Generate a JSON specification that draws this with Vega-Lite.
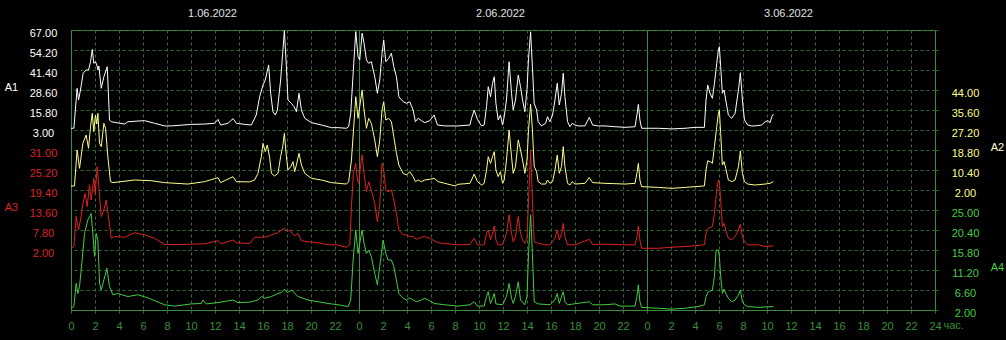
{
"$schema": "https://vega.github.io/schema/vega-lite/v6.json",
"background": "#000000",
"autosize": {"type": "none"},
"padding": {"left": 71, "right": 71, "top": 30, "bottom": 30},
"width": 864,
"height": 280,
"config": {"view": {"stroke": "#3c8c3c", "strokeWidth": 1}, "axis": {"labelFont": "Liberation Sans", "labelFontSize": 11, "titleFont": "Liberation Sans", "titleFontSize": 11, "titleFontWeight": "normal"}},
"datasets": {
"a1": [{"t":0,"v":4.1},{"t":0.24,"v":4.1},{"t":0.51,"v":29.7},{"t":0.63,"v":22.2},{"t":0.79,"v":28.6},{"t":1.01,"v":39.3},{"t":1.26,"v":41.4},{"t":1.46,"v":41.4},{"t":1.63,"v":46.7},{"t":1.77,"v":54.6},{"t":1.9,"v":45.7},{"t":2.04,"v":46.7},{"t":2.15,"v":44.6},{"t":2.24,"v":41.4},{"t":2.32,"v":44},{"t":2.52,"v":29.7},{"t":2.74,"v":37.1},{"t":3.02,"v":43.5},{"t":3.21,"v":9.4},{"t":3.35,"v":8.3},{"t":4.46,"v":6.8},{"t":4.74,"v":8.3},{"t":6.13,"v":9.0},{"t":6.96,"v":7.3},{"t":7.8,"v":5.6},{"t":8.35,"v":5.6},{"t":10.02,"v":6.6},{"t":11.13,"v":6.8},{"t":11.97,"v":7.3},{"t":12.25,"v":9.8},{"t":12.47,"v":6.2},{"t":13.08,"v":7.3},{"t":13.5,"v":10.3},{"t":13.78,"v":7.3},{"t":14.47,"v":6.6},{"t":15.03,"v":6.2},{"t":15.44,"v":12.6},{"t":15.72,"v":24.3},{"t":16.0,"v":31.8},{"t":16.19,"v":35.0},{"t":16.47,"v":44.6},{"t":16.64,"v":26.5},{"t":16.83,"v":14.7},{"t":17.03,"v":12.6},{"t":17.2,"v":15.8},{"t":17.47,"v":35.0},{"t":17.64,"v":52.1},{"t":17.78,"v":66.6},{"t":17.95,"v":43.5},{"t":18.08,"v":22.2},{"t":18.36,"v":20.1},{"t":18.59,"v":17.9},{"t":18.78,"v":14.7},{"t":19.0,"v":26.5},{"t":19.2,"v":15.8},{"t":19.48,"v":10.5},{"t":20.03,"v":7.7},{"t":20.87,"v":6.2},{"t":21.7,"v":4.5},{"t":22.26,"v":4.5},{"t":22.95,"v":4.1},{"t":23.14,"v":5.1},{"t":23.31,"v":13.7},{"t":23.53,"v":41.4},{"t":23.73,"v":66.0},{"t":23.92,"v":49.9},{"t":24.06,"v":47.8},{"t":24.26,"v":64.9},{"t":24.42,"v":58.5},{"t":24.62,"v":47.8},{"t":24.81,"v":45.7},{"t":25.03,"v":46.7},{"t":25.31,"v":37.1},{"t":25.53,"v":26.5},{"t":25.73,"v":35.0},{"t":25.92,"v":52.1},{"t":26.06,"v":60.6},{"t":26.23,"v":46.7},{"t":26.48,"v":48.9},{"t":26.7,"v":52.1},{"t":26.9,"v":43.5},{"t":27.12,"v":37.1},{"t":27.32,"v":24.3},{"t":27.68,"v":21.1},{"t":27.96,"v":20.1},{"t":28.23,"v":21.1},{"t":28.51,"v":15.8},{"t":28.7,"v":8.3},{"t":28.93,"v":10.5},{"t":29.2,"v":9.0},{"t":29.48,"v":7.7},{"t":29.9,"v":9.0},{"t":30.26,"v":12.6},{"t":30.54,"v":6.2},{"t":31.15,"v":5.6},{"t":32.26,"v":5.6},{"t":33.24,"v":6.2},{"t":33.38,"v":10.5},{"t":33.6,"v":15.8},{"t":33.87,"v":9.8},{"t":34.21,"v":5.6},{"t":34.43,"v":6.2},{"t":34.63,"v":17.9},{"t":34.77,"v":30.7},{"t":34.96,"v":24.3},{"t":35.13,"v":32.9},{"t":35.27,"v":37.1},{"t":35.41,"v":20.1},{"t":35.6,"v":9.4},{"t":35.79,"v":12.6},{"t":35.96,"v":6.2},{"t":36.1,"v":11.5},{"t":36.29,"v":22.2},{"t":36.51,"v":46.7},{"t":36.71,"v":26.5},{"t":36.85,"v":15.8},{"t":37.04,"v":22.2},{"t":37.27,"v":38.2},{"t":37.46,"v":30.7},{"t":37.63,"v":22.2},{"t":37.82,"v":14.7},{"t":38.0,"v":29.0},{"t":38.13,"v":48.9},{"t":38.3,"v":65.9},{"t":38.45,"v":43.5},{"t":38.6,"v":20.1},{"t":38.8,"v":15.8},{"t":38.93,"v":8.3},{"t":39.21,"v":5.6},{"t":39.55,"v":7.3},{"t":39.71,"v":11.5},{"t":39.91,"v":8.3},{"t":40.13,"v":12.6},{"t":40.33,"v":22.2},{"t":40.52,"v":32.9},{"t":40.69,"v":19.0},{"t":40.88,"v":26.5},{"t":41.02,"v":39.3},{"t":41.16,"v":24.3},{"t":41.38,"v":8.3},{"t":41.58,"v":5.1},{"t":41.77,"v":7.3},{"t":42.0,"v":6.2},{"t":42.27,"v":5.6},{"t":42.83,"v":5.6},{"t":43.19,"v":11.1},{"t":43.47,"v":6.2},{"t":43.94,"v":5.6},{"t":44.5,"v":5.6},{"t":45.33,"v":5.1},{"t":46.17,"v":4.7},{"t":47.0,"v":5.1},{"t":47.16,"v":12.6},{"t":47.28,"v":19.4},{"t":47.41,"v":9.4},{"t":47.55,"v":4.1},{"t":48.1,"v":4.1},{"t":48.94,"v":4.1},{"t":50.06,"v":3.7},{"t":51.17,"v":4.1},{"t":52.0,"v":4.7},{"t":52.78,"v":4.7},{"t":52.92,"v":22.2},{"t":53.06,"v":31.8},{"t":53.25,"v":26.5},{"t":53.45,"v":23.3},{"t":53.62,"v":32.9},{"t":53.81,"v":45.7},{"t":53.95,"v":54.2},{"t":54.03,"v":56.3},{"t":54.14,"v":43.5},{"t":54.28,"v":26.5},{"t":54.42,"v":28.6},{"t":54.56,"v":22.2},{"t":54.78,"v":12.6},{"t":55.06,"v":10.5},{"t":55.34,"v":13.7},{"t":55.62,"v":28.6},{"t":55.78,"v":39.7},{"t":55.95,"v":22.2},{"t":56.12,"v":9.4},{"t":56.39,"v":6.2},{"t":56.73,"v":5.6},{"t":57.01,"v":5.6},{"t":57.56,"v":6.2},{"t":57.84,"v":8.3},{"t":58.06,"v":9.0},{"t":58.26,"v":7.7},{"t":58.4,"v":11.5},{"t":58.53,"v":13.2}],
"a2": [{"t":0,"v":3.7},{"t":0.29,"v":3.7},{"t":0.51,"v":18.8},{"t":0.71,"v":11.1},{"t":0.99,"v":21.6},{"t":1.26,"v":25.1},{"t":1.46,"v":19.5},{"t":1.63,"v":28.6},{"t":1.77,"v":34.2},{"t":1.9,"v":26.5},{"t":2.04,"v":33.5},{"t":2.15,"v":29.7},{"t":2.24,"v":34.2},{"t":2.38,"v":21.6},{"t":2.52,"v":20.2},{"t":2.74,"v":30.0},{"t":2.88,"v":27.9},{"t":3.07,"v":16.0},{"t":3.29,"v":5.5},{"t":3.49,"v":5.1},{"t":5.3,"v":6.2},{"t":6.69,"v":5.9},{"t":7.8,"v":5.1},{"t":9.74,"v":4.5},{"t":11.13,"v":5.5},{"t":12.25,"v":7.2},{"t":12.47,"v":5.1},{"t":13.5,"v":7.6},{"t":13.78,"v":5.5},{"t":14.89,"v":5.4},{"t":15.3,"v":6.2},{"t":15.58,"v":9.0},{"t":15.86,"v":16.0},{"t":16.0,"v":21.6},{"t":16.19,"v":18.1},{"t":16.36,"v":20.9},{"t":16.56,"v":15.3},{"t":16.7,"v":9.0},{"t":16.97,"v":7.9},{"t":17.25,"v":9.0},{"t":17.47,"v":16.0},{"t":17.64,"v":20.2},{"t":17.78,"v":25.8},{"t":17.95,"v":16.0},{"t":18.08,"v":10.4},{"t":18.31,"v":11.8},{"t":18.5,"v":13.9},{"t":18.64,"v":9.7},{"t":18.78,"v":12.5},{"t":19.0,"v":17.4},{"t":19.2,"v":12.5},{"t":19.48,"v":9.0},{"t":20.03,"v":6.9},{"t":20.87,"v":6.2},{"t":21.7,"v":5.1},{"t":22.95,"v":4.5},{"t":23.14,"v":5.5},{"t":23.37,"v":14.6},{"t":23.56,"v":28.6},{"t":23.73,"v":41.2},{"t":23.92,"v":32.1},{"t":24.06,"v":37.0},{"t":24.26,"v":44.0},{"t":24.42,"v":35.6},{"t":24.62,"v":27.9},{"t":24.81,"v":32.1},{"t":25.03,"v":30.0},{"t":25.31,"v":23.0},{"t":25.53,"v":16.0},{"t":25.73,"v":23.0},{"t":25.92,"v":35.6},{"t":26.06,"v":39.1},{"t":26.23,"v":31.4},{"t":26.48,"v":32.1},{"t":26.7,"v":30.7},{"t":26.9,"v":24.4},{"t":27.12,"v":17.4},{"t":27.32,"v":12.5},{"t":27.68,"v":9.0},{"t":27.96,"v":8.3},{"t":28.23,"v":9.7},{"t":28.51,"v":7.6},{"t":28.7,"v":5.5},{"t":28.93,"v":6.2},{"t":29.2,"v":5.5},{"t":29.48,"v":6.2},{"t":29.9,"v":6.5},{"t":30.26,"v":6.9},{"t":30.6,"v":5.5},{"t":31.15,"v":4.8},{"t":31.99,"v":3.7},{"t":32.26,"v":4.4},{"t":33.24,"v":4.8},{"t":33.38,"v":6.2},{"t":33.6,"v":8.7},{"t":33.87,"v":5.5},{"t":34.21,"v":4.1},{"t":34.43,"v":4.8},{"t":34.63,"v":10.4},{"t":34.77,"v":16.0},{"t":34.96,"v":13.2},{"t":35.13,"v":16.0},{"t":35.27,"v":18.1},{"t":35.41,"v":10.4},{"t":35.6,"v":7.6},{"t":35.79,"v":9.7},{"t":35.96,"v":4.8},{"t":36.1,"v":6.2},{"t":36.29,"v":14.6},{"t":36.51,"v":27.2},{"t":36.71,"v":16.0},{"t":36.85,"v":9.0},{"t":37.04,"v":11.8},{"t":37.27,"v":23.0},{"t":37.46,"v":18.8},{"t":37.63,"v":14.6},{"t":37.82,"v":9.0},{"t":38.0,"v":14.6},{"t":38.13,"v":27.5},{"t":38.3,"v":38.0},{"t":38.45,"v":27.5},{"t":38.6,"v":11.8},{"t":38.8,"v":9.7},{"t":38.93,"v":5.5},{"t":39.21,"v":4.5},{"t":39.55,"v":4.5},{"t":39.71,"v":6.2},{"t":39.91,"v":4.8},{"t":40.13,"v":5.5},{"t":40.33,"v":10.4},{"t":40.52,"v":16.7},{"t":40.69,"v":9.0},{"t":40.88,"v":11.8},{"t":41.02,"v":20.2},{"t":41.16,"v":11.8},{"t":41.38,"v":4.8},{"t":41.58,"v":4.1},{"t":41.77,"v":5.5},{"t":42.0,"v":4.5},{"t":42.83,"v":4.8},{"t":43.19,"v":7.2},{"t":43.47,"v":5.1},{"t":44.5,"v":4.8},{"t":46.17,"v":4.5},{"t":47.0,"v":4.8},{"t":47.16,"v":9.0},{"t":47.28,"v":13.2},{"t":47.41,"v":6.2},{"t":47.55,"v":3.4},{"t":48.94,"v":3.1},{"t":50.06,"v":2.7},{"t":51.17,"v":3.1},{"t":52.78,"v":3.7},{"t":52.92,"v":10.4},{"t":53.06,"v":14.3},{"t":53.25,"v":13.9},{"t":53.45,"v":13.2},{"t":53.62,"v":20.2},{"t":53.81,"v":28.6},{"t":53.95,"v":34.2},{"t":54.03,"v":35.6},{"t":54.14,"v":25.8},{"t":54.28,"v":12.5},{"t":54.42,"v":13.9},{"t":54.56,"v":11.1},{"t":54.78,"v":6.2},{"t":55.06,"v":5.5},{"t":55.34,"v":6.2},{"t":55.62,"v":11.8},{"t":55.78,"v":18.4},{"t":55.95,"v":9.0},{"t":56.12,"v":5.5},{"t":56.39,"v":4.5},{"t":57.01,"v":4.1},{"t":57.84,"v":4.5},{"t":58.26,"v":4.8},{"t":58.53,"v":5.5}],
"a3": [{"t":0,"v":2.5},{"t":0.24,"v":3.0},{"t":0.43,"v":11.7},{"t":0.63,"v":7.8},{"t":0.79,"v":10.7},{"t":0.99,"v":15.5},{"t":1.18,"v":18.4},{"t":1.35,"v":14.6},{"t":1.54,"v":20.9},{"t":1.68,"v":16.5},{"t":1.9,"v":22.8},{"t":2.02,"v":18.4},{"t":2.18,"v":26.2},{"t":2.32,"v":20.4},{"t":2.52,"v":11.7},{"t":2.74,"v":13.6},{"t":2.93,"v":16.5},{"t":3.16,"v":10.7},{"t":3.35,"v":5.4},{"t":3.63,"v":5.9},{"t":4.46,"v":5.7},{"t":5.3,"v":7.0},{"t":6.13,"v":6.4},{"t":6.96,"v":5.4},{"t":7.8,"v":3.6},{"t":9.19,"v":3.6},{"t":11.13,"v":3.8},{"t":12.25,"v":4.7},{"t":12.52,"v":3.8},{"t":13.5,"v":4.9},{"t":13.78,"v":4.1},{"t":14.89,"v":3.9},{"t":15.3,"v":5.7},{"t":15.86,"v":5.7},{"t":16.41,"v":5.9},{"t":16.7,"v":6.4},{"t":17.11,"v":6.8},{"t":17.47,"v":7.6},{"t":17.78,"v":8.3},{"t":18.03,"v":7.3},{"t":18.22,"v":7.8},{"t":18.42,"v":6.8},{"t":18.64,"v":6.1},{"t":18.92,"v":6.8},{"t":19.2,"v":4.7},{"t":19.75,"v":4.4},{"t":20.59,"v":4.1},{"t":21.42,"v":3.5},{"t":22.12,"v":3.5},{"t":22.95,"v":2.8},{"t":23.23,"v":3.5},{"t":23.37,"v":14.6},{"t":23.53,"v":24.2},{"t":23.73,"v":27.1},{"t":23.87,"v":22.3},{"t":23.98,"v":21.3},{"t":24.14,"v":26.7},{"t":24.26,"v":29.6},{"t":24.42,"v":24.2},{"t":24.62,"v":18.9},{"t":24.81,"v":21.8},{"t":25.03,"v":19.4},{"t":25.31,"v":15.5},{"t":25.53,"v":10.2},{"t":25.73,"v":15.1},{"t":25.92,"v":27.1},{"t":26.06,"v":25.2},{"t":26.23,"v":19.4},{"t":26.42,"v":18.9},{"t":26.7,"v":19.4},{"t":26.9,"v":16.5},{"t":27.12,"v":12.6},{"t":27.32,"v":7.8},{"t":27.68,"v":6.4},{"t":27.96,"v":6.4},{"t":28.23,"v":5.9},{"t":28.51,"v":5.9},{"t":28.79,"v":5.1},{"t":29.2,"v":5.7},{"t":29.48,"v":5.9},{"t":29.9,"v":5.4},{"t":30.26,"v":4.7},{"t":30.6,"v":4.1},{"t":31.15,"v":3.9},{"t":32.26,"v":3.5},{"t":33.24,"v":3.6},{"t":33.6,"v":5.4},{"t":33.87,"v":3.5},{"t":34.43,"v":3.5},{"t":34.63,"v":6.8},{"t":34.77,"v":7.8},{"t":34.96,"v":4.9},{"t":35.13,"v":6.8},{"t":35.27,"v":9.0},{"t":35.41,"v":4.9},{"t":35.6,"v":3.5},{"t":35.96,"v":3.5},{"t":36.29,"v":6.8},{"t":36.51,"v":12.2},{"t":36.71,"v":6.8},{"t":36.85,"v":4.4},{"t":37.04,"v":5.9},{"t":37.27,"v":11.7},{"t":37.46,"v":6.8},{"t":37.63,"v":4.9},{"t":37.82,"v":3.9},{"t":38.0,"v":5.4},{"t":38.13,"v":16.5},{"t":38.3,"v":31.0},{"t":38.45,"v":16.5},{"t":38.6,"v":4.4},{"t":38.93,"v":3.9},{"t":39.55,"v":3.5},{"t":39.91,"v":3.5},{"t":40.33,"v":5.4},{"t":40.52,"v":7.8},{"t":40.69,"v":4.9},{"t":40.88,"v":6.8},{"t":41.02,"v":9.7},{"t":41.16,"v":5.9},{"t":41.38,"v":3.5},{"t":42.0,"v":3.5},{"t":43.19,"v":5.1},{"t":43.47,"v":3.6},{"t":44.5,"v":3.7},{"t":46.17,"v":3.5},{"t":47.0,"v":3.5},{"t":47.16,"v":5.9},{"t":47.28,"v":9.0},{"t":47.41,"v":4.9},{"t":47.55,"v":2.5},{"t":48.94,"v":2.5},{"t":50.06,"v":2.8},{"t":51.17,"v":3.0},{"t":52.78,"v":3.5},{"t":52.92,"v":6.8},{"t":53.11,"v":8.3},{"t":53.45,"v":8.8},{"t":53.62,"v":12.6},{"t":53.81,"v":19.4},{"t":53.95,"v":22.3},{"t":54.03,"v":21.8},{"t":54.14,"v":16.5},{"t":54.28,"v":8.8},{"t":54.42,"v":9.7},{"t":54.56,"v":7.8},{"t":54.78,"v":5.4},{"t":55.06,"v":4.9},{"t":55.34,"v":5.9},{"t":55.62,"v":7.8},{"t":55.78,"v":9.5},{"t":55.95,"v":5.9},{"t":56.12,"v":4.4},{"t":56.39,"v":3.5},{"t":57.28,"v":3.5},{"t":57.84,"v":3.0},{"t":58.53,"v":3.2}],
"a4": [{"t":0,"v":2.4},{"t":0.24,"v":2.8},{"t":0.43,"v":8.1},{"t":0.57,"v":5.8},{"t":0.71,"v":7.4},{"t":0.9,"v":12.7},{"t":1.13,"v":19.6},{"t":1.4,"v":22.7},{"t":1.68,"v":24.2},{"t":1.82,"v":19.6},{"t":1.96,"v":14.3},{"t":2.1,"v":19.6},{"t":2.24,"v":18.1},{"t":2.38,"v":8.1},{"t":2.52,"v":6.6},{"t":2.74,"v":8.9},{"t":2.99,"v":11.6},{"t":3.21,"v":7.4},{"t":3.49,"v":5.5},{"t":3.91,"v":5.8},{"t":4.74,"v":5.1},{"t":5.57,"v":5.5},{"t":6.41,"v":4.8},{"t":7.8,"v":3.2},{"t":8.63,"v":2.9},{"t":10.02,"v":3.4},{"t":10.86,"v":3.5},{"t":11.0,"v":4.3},{"t":11.27,"v":3.4},{"t":12.25,"v":3.7},{"t":13.5,"v":4.3},{"t":13.92,"v":3.7},{"t":14.89,"v":3.8},{"t":15.58,"v":4.3},{"t":15.86,"v":5.1},{"t":16.14,"v":4.7},{"t":16.7,"v":5.1},{"t":17.25,"v":5.8},{"t":17.53,"v":6.0},{"t":17.78,"v":6.8},{"t":18.03,"v":6.0},{"t":18.42,"v":6.6},{"t":18.64,"v":5.8},{"t":18.92,"v":5.1},{"t":19.75,"v":4.3},{"t":20.59,"v":3.9},{"t":21.42,"v":3.5},{"t":22.26,"v":3.2},{"t":23.09,"v":2.8},{"t":23.31,"v":4.3},{"t":23.51,"v":13.5},{"t":23.73,"v":20.4},{"t":23.92,"v":15.0},{"t":24.06,"v":17.3},{"t":24.26,"v":20.4},{"t":24.42,"v":17.3},{"t":24.62,"v":15.0},{"t":24.81,"v":15.8},{"t":25.03,"v":14.3},{"t":25.31,"v":10.4},{"t":25.53,"v":7.8},{"t":25.73,"v":12.0},{"t":26.01,"v":18.1},{"t":26.23,"v":15.0},{"t":26.42,"v":13.5},{"t":26.7,"v":13.5},{"t":26.9,"v":12.0},{"t":27.12,"v":8.9},{"t":27.32,"v":5.8},{"t":27.68,"v":4.7},{"t":27.96,"v":4.3},{"t":28.23,"v":4.8},{"t":28.51,"v":4.3},{"t":28.79,"v":3.9},{"t":29.2,"v":4.3},{"t":29.48,"v":4.7},{"t":29.9,"v":4.1},{"t":30.26,"v":3.5},{"t":31.15,"v":3.2},{"t":32.26,"v":2.9},{"t":33.24,"v":3.2},{"t":33.6,"v":3.9},{"t":33.87,"v":2.9},{"t":34.43,"v":2.9},{"t":34.63,"v":5.1},{"t":34.77,"v":6.2},{"t":34.96,"v":3.5},{"t":35.13,"v":4.7},{"t":35.27,"v":5.8},{"t":35.41,"v":3.4},{"t":35.96,"v":3.2},{"t":36.29,"v":5.1},{"t":36.51,"v":8.1},{"t":36.71,"v":4.7},{"t":36.85,"v":3.5},{"t":37.04,"v":5.1},{"t":37.27,"v":8.5},{"t":37.46,"v":4.3},{"t":37.82,"v":3.2},{"t":38.0,"v":5.1},{"t":38.13,"v":15.0},{"t":38.3,"v":23.9},{"t":38.45,"v":15.0},{"t":38.6,"v":3.9},{"t":38.93,"v":3.4},{"t":39.91,"v":3.2},{"t":40.33,"v":4.3},{"t":40.52,"v":5.8},{"t":40.69,"v":3.5},{"t":40.88,"v":5.1},{"t":41.02,"v":6.2},{"t":41.16,"v":3.9},{"t":41.38,"v":3.2},{"t":43.19,"v":3.9},{"t":43.47,"v":3.2},{"t":44.5,"v":3.2},{"t":45.33,"v":3.4},{"t":45.75,"v":2.9},{"t":47.0,"v":2.9},{"t":47.16,"v":5.1},{"t":47.28,"v":7.8},{"t":47.41,"v":3.9},{"t":47.55,"v":2.6},{"t":48.94,"v":2.4},{"t":50.06,"v":2.2},{"t":51.17,"v":2.4},{"t":52.28,"v":2.8},{"t":52.78,"v":3.2},{"t":52.92,"v":5.1},{"t":53.11,"v":6.2},{"t":53.45,"v":6.6},{"t":53.62,"v":9.7},{"t":53.76,"v":15.8},{"t":53.95,"v":15.8},{"t":54.03,"v":14.3},{"t":54.14,"v":9.7},{"t":54.28,"v":5.8},{"t":54.42,"v":6.8},{"t":54.56,"v":5.8},{"t":54.78,"v":4.7},{"t":55.06,"v":3.9},{"t":55.34,"v":4.3},{"t":55.62,"v":5.5},{"t":55.78,"v":6.6},{"t":55.95,"v":3.9},{"t":56.12,"v":3.2},{"t":56.39,"v":2.8},{"t":57.28,"v":2.6},{"t":58.53,"v":2.8}]
},
"layer": [
{"data": {"name": "a4"}, "mark": {"type": "line", "color": "#44cc44", "strokeWidth": 1},
 "encoding": {
  "x": {"field": "t", "type": "quantitative", "scale": {"domain": [0, 72], "nice": false, "zero": false},
   "axis": {"orient": "bottom", "values": [0,2,4,6,8,10,12,14,16,18,20,22,24,26,28,30,32,34,36,38,40,42,44,46,48,50,52,54,56,58,60,62,64,66,68,70,72],
    "labelExpr": "datum.value == 72 ? '24' : '' + (datum.value % 24)", "labelFlush": false, "labelOverlap": false, "labelColor": "#3a8f3a", "labelPadding": 5,
    "tickSize": 5, "tickColor": "#2f6f2f", "tickDash": [3, 3], "domainColor": "#3c8c3c",
    "grid": true, "gridColor": {"condition": {"test": "datum.value % 24 == 0", "value": "#3c8c3c"}, "value": "#2f6f2f"},
    "gridDash": {"condition": {"test": "datum.value % 24 == 0", "value": []}, "value": [3, 3]},
    "title": "час.", "titleColor": "#3a8f3a", "titleX": 872, "titleY": 15, "titleAlign": "left", "titleBaseline": "middle"}},
  "y": {"field": "v", "type": "quantitative", "scale": {"domain": [2, 66.4], "nice": false, "zero": false},
   "axis": {"orient": "right", "values": [2,6.6,11.2,15.8,20.4,25,29.6,34.2,38.8,43.4,48,52.6,57.2,61.8,66.4],
    "labelExpr": "datum.value <= 25.01 ? format(datum.value, '.2f') : ''", "labelColor": "#44cc44", "labelAlign": "center", "labelBaseline": "middle", "labelPadding": 24, "labelOffset": 3, "labelOverlap": false,
    "tickSize": 6, "tickColor": "#2f6f2f", "tickDash": [3, 3], "domain": false,
    "grid": true, "gridColor": "#2f6f2f", "gridDash": [3, 3],
    "title": "A4", "titleColor": "#44cc44", "titleAngle": 0, "titleX": 62, "titleY": 237, "titleAlign": "center", "titleBaseline": "middle"}}
 }},
{"data": {"name": "a3"}, "mark": {"type": "line", "color": "#dd2222", "strokeWidth": 1},
 "encoding": {
  "x": {"field": "t", "type": "quantitative", "scale": {"domain": [0, 72], "nice": false, "zero": false}, "axis": null},
  "y": {"field": "v", "type": "quantitative", "scale": {"domain": [-15.4, 65.8], "nice": false, "zero": false},
   "axis": {"orient": "left", "values": [2, 7.8, 13.6, 19.4, 25.2, 31], "format": ".2f", "labelColor": "#dd2222", "labelAlign": "center", "labelBaseline": "middle", "labelPadding": 28, "labelOffset": 3, "labelOverlap": false,
    "ticks": false, "tickSize": 0, "domain": false, "grid": false,
    "title": "A3", "titleColor": "#dd2222", "titleAngle": 0, "titleX": -60, "titleY": 177, "titleAlign": "center", "titleBaseline": "middle"}}
 }},
{"data": {"name": "a2"}, "mark": {"type": "line", "color": "#ffff88", "strokeWidth": 1},
 "encoding": {
  "x": {"field": "t", "type": "quantitative", "scale": {"domain": [0, 72], "nice": false, "zero": false}, "axis": null},
  "y": {"field": "v", "type": "quantitative", "scale": {"domain": [-48.4, 69.2], "nice": false, "zero": false},
   "axis": {"orient": "right", "values": [2, 10.4, 18.8, 27.2, 35.6, 44], "format": ".2f", "labelColor": "#ffff88", "labelAlign": "center", "labelBaseline": "middle", "labelPadding": 30, "labelOffset": 3, "labelOverlap": false,
    "ticks": false, "tickSize": 0, "domain": false, "grid": false,
    "title": "A2", "titleColor": "#ffffcc", "titleAngle": 0, "titleX": 62, "titleY": 117, "titleAlign": "center", "titleBaseline": "middle"}}
 }},
{"data": {"name": "a1"}, "mark": {"type": "line", "color": "#ffffff", "strokeWidth": 1},
 "encoding": {
  "x": {"field": "t", "type": "quantitative", "scale": {"domain": [0, 72], "nice": false, "zero": false},
   "axis": {"orient": "top", "values": [12, 36, 60], "labelExpr": "datum.value == 12 ? '1.06.2022' : (datum.value == 36 ? '2.06.2022' : '3.06.2022')",
    "domain": false, "ticks": false, "tickSize": 0, "grid": false, "labelFlush": false, "labelOverlap": false, "labelColor": "#e0e0e0", "labelFontSize": 11, "labelBaseline": "alphabetic", "labelPadding": 13.5, "labelOffset": -3, "title": null}},
  "y": {"field": "v", "type": "quantitative", "scale": {"domain": [-112.2, 67], "nice": false, "zero": false},
   "axis": {"orient": "left", "values": [3, 15.8, 28.6, 41.4, 54.2, 67], "format": ".2f", "labelColor": "#ffffff", "labelAlign": "center", "labelBaseline": "middle", "labelPadding": 28, "labelOffset": 3, "labelOverlap": false,
    "ticks": false, "tickSize": 0, "domain": false, "grid": false,
    "title": "A1", "titleColor": "#ffffff", "titleAngle": 0, "titleX": -60, "titleY": 57, "titleAlign": "center", "titleBaseline": "middle"}}
 }}
],
"resolve": {"scale": {"y": "independent"}, "axis": {"x": "independent", "y": "independent"}}
}
